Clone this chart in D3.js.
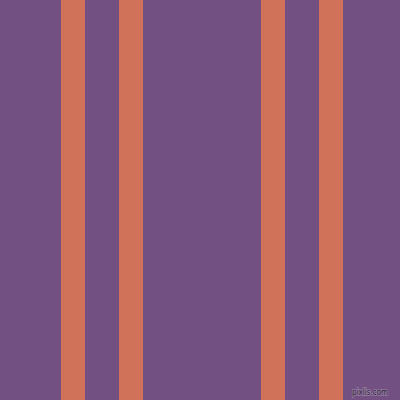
<!DOCTYPE html>
<html>
<head>
<meta charset="utf-8">
<script src="https://cdn.jsdelivr.net/npm/d3@7"></script>
<style>
  html, body { margin: 0; padding: 0; background: #725082; }
</style>
</head>
<body>
<div id="chart"></div>
<script>
// stripe left edges and widths, in pattern units (0..400)
var stripeStarts = [61, 119, 261, 319];
var stripeWidths = [24, 24, 24, 24];
var watermark = "pixlis.com";

var width = 400,
    height = 400;

var x = d3.scaleLinear().domain([0, 400]).range([0, width]);

var svg = d3.select("#chart")
    .append("svg")
    .attr("width", width)
    .attr("height", height)
    .style("display", "block");

svg.append("rect")
    .attr("width", width)
    .attr("height", height)
    .style("fill", "#725082");

svg.selectAll(".stripe")
    .data(stripeStarts)
    .enter().append("rect")
    .attr("class", "stripe")
    .attr("x", function(d) { return x(d); })
    .attr("y", 0)
    .attr("width", function(d, i) { return x(d + stripeWidths[i]) - x(d); })
    .attr("height", height)
    .style("fill", "#d0715a");

// watermark: dark text with a light halo
svg.append("text")
    .attr("x", 352)
    .attr("y", 395)
    .attr("textLength", 36)
    .attr("lengthAdjust", "spacingAndGlyphs")
    .style("font-family", "DejaVu Sans")
    .style("font-size", "9px")
    .style("fill", "none")
    .style("stroke", "#9a80a8")
    .style("stroke-width", 1.6)
    .text(watermark);

svg.append("text")
    .attr("x", 352)
    .attr("y", 395)
    .attr("textLength", 36)
    .attr("lengthAdjust", "spacingAndGlyphs")
    .style("font-family", "DejaVu Sans")
    .style("font-size", "9px")
    .style("fill", "#2a1f33")
    .text(watermark);
</script>
</body>
</html>
